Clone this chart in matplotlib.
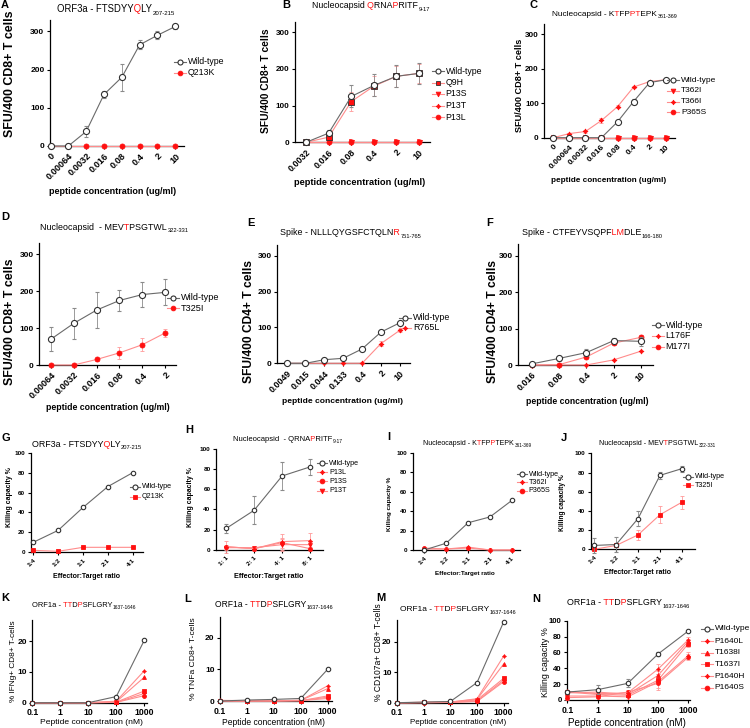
import matplotlib
matplotlib.use('Agg')
import matplotlib.pyplot as plt
from matplotlib.lines import Line2D
from matplotlib.ticker import NullLocator
from matplotlib.transforms import Bbox

plt.rcParams['font.family'] = ['Liberation Sans', 'DejaVu Sans']

# ---------------- data ----------------
# A
a_conc = ['0', '0.00064', '0.0032', '0.016', '0.08', '0.4', '2', '10']
a_wt = [0, 0, 38, 135, 180, 265, 290, 313]
a_wt_err = [0, 0, 15, 8, 35, 12, 10, 6]
a_q213k = [0, 0, 0, 0, 0, 0, 0, 0]
# B
b_conc = ['0.0032', '0.016', '0.08', '0.4', '2', '10']
b_wt = [0, 25, 125, 155, 180, 188]
b_wt_err = [0, 8, 30, 30, 30, 28]
b_q9h = [0, 14, 111, 153, 180, 188]
b_q9h_err = [0, 6, 25, 28, 28, 26]
b_p13s = [0, 0, 0, 0, 0, 0]
b_p13t = [0, 0, 0, 0, 0, 0]
b_p13l = [0, 0, 0, 0, 0, 0]
# C
c_conc = ['0', '0.00064', '0.0032', '0.016', '0.08', '0.4', '2', '10']
c_wt = [0, 0, 0, 0, 46, 105, 160, 168]
c_wt_err = [0, 0, 0, 0, 3, 8, 4, 3]
c_t362i = [0, 0, 0, 0, 0, 0, 0, 0]
c_t366i = [0, 12, 18, 50, 90, 147, 163, 168]
c_t366i_err = [0, 2, 4, 7, 4, 3, 3, 2]
c_p365s = [0, 0, 0, 0, 0, 0, 0, 0]
# D
d_conc = ['0.00064', '0.0032', '0.016', '0.08', '0.4', '2']
d_wt = [70, 113, 149, 175, 191, 197]
d_wt_err = [32, 42, 48, 28, 33, 35]
d_t325i = [0, 0, 15, 33, 55, 87]
d_t325i_err = [0, 0, 5, 17, 17, 10]
# E
e_conc = ['0.0049', '0.015', '0.044', '0.133', '0.4', '2', '10']
e_wt = [0, 0, 10, 14, 40, 87, 113]
e_wt_err = [0, 0, 1, 1, 2, 3, 3]
e_r765l = [0, 0, 0, 0, 0, 55, 92]
e_r765l_err = [0, 0, 0, 0, 0, 8, 5]
# F
f_conc = ['0.016', '0.08', '0.4', '2', '10']
f_wt = [3, 18, 34, 67, 65]
f_wt_err = [2, 8, 10, 8, 12]
f_l176f = [0, 0, 0, 14, 38]
f_m177i = [0, 1, 22, 60, 76]
f_m177i_err = [0, 1, 3, 4, 5]
# G
g_ratio = ['1:4', '1:2', '1:1', '2:1', '4:1']
g_wt = [10, 22, 45, 66, 80]
g_q213k = [2, 1, 5, 5, 5]
# H
h_ratio = ['1: 1', '2: 1', '4: 1', '8: 1']
h_wt = [21, 39, 73, 82]
h_wt_err = [4, 14, 14, 8]
h_p13l = [3, 1, 8, 9]
h_p13l_err = [6, 2, 8, 8]
h_p13s = [3, 1, 7, 1]
h_p13s_err = [2, 1, 5, 2]
h_p13t = [2, 2, 5, 5]
h_p13t_err = [2, 1, 6, 3]
# I
i_ratio = ['1:4', '1:2', '1:1', '2:1', '4:1']
i_wt = [0, 7, 28, 34, 51]
i_t362i = [1, 1, 3, 0, 0]
i_p365s = [2, 1, 2, 0, 0]
# J
j_ratio = ['1:4', '1:2', '1:1', '2:1', '4:1']
j_wt = [4, 5, 32, 77, 84]
j_wt_err = [8, 8, 8, 4, 3]
j_t325i = [0, 4, 15, 36, 49]
j_t325i_err = [1, 1, 5, 9, 7]
# K-N (peptide concentration nM)
nm_conc = [0.1, 1, 10, 100, 1000]
nm_labels = ['0.1', '1', '10', '100', '1000']
mut_names = ['P1640L', 'T1638I', 'T1637I', 'P1640H', 'P1640S']
k_wt = [0, 0, 0, 2.0, 20.3]
k_mut = [[0, 0, 0, 0.5, 10.4], [0, 0, 0, 0.3, 8.3], [0, 0, 0, 0.2, 3.8],
         [0, 0, 0, 0.1, 3.0], [0, 0, 0, 0.1, 2.3]]
l_wt = [0, 0.3, 0.5, 0.8, 10.0]
l_mut = [[0.2, 0.1, 0.1, 0.2, 4.8], [0.1, 0.1, 0.1, 0.2, 3.9], [0.1, 0, 0.1, 0.1, 1.6],
         [0, 0, 0, 0.1, 1.2], [0, 0, 0, 0.1, 0.8]]
m_wt = [0, 0.2, 0.4, 6.6, 26.5]
m_mut = [[0, 0.1, 0.2, 1.3, 15.3], [0, 0.1, 0.2, 1.1, 12.7], [0, 0.1, 0.1, 0.9, 8.0],
         [0, 0, 0.1, 0.5, 7.4], [0, 0, 0.1, 0.4, 6.9]]
n_wt = [10, 13, 21, 58, 87]
n_wt_err = [2, 6, 5, 2, 1]
n_mut = [[11, 8, 9, 39, 76], [9, 10, 7, 31, 74], [10, 7, 6, 25, 71],
         [5, 5, 4, 23, 56], [3, 4, 10, 21, 54]]
n_mut_err = [[2, 3, 3, 6, 3], [2, 3, 2, 5, 3], [2, 2, 2, 4, 4],
             [3, 2, 3, 10, 4], [3, 2, 3, 6, 4]]

# ---------------- styling ----------------
W, H = 750, 728
fig = plt.figure(figsize=(7.5, 7.28), dpi=100)
R = fig.canvas.get_renderer()
RED = '#ff1010'
RED_LINE = '#ff8c8c'
WT_LINE = '#6a6a6a'
WT_EDGE = '#303030'
STAR4 = (4, 1, 0)
BLK = 'black'


def fx(x):
    return x / W


def fy(y):
    return 1 - y / H


def make_ax(x0, x1, ytop, ybot):
    return fig.add_axes([fx(x0), fy(ybot), (x1 - x0) / W, (ybot - ytop) / H])


def fit_text(s, cx, cy, length, rot=0, weight='normal', base=8.0):
    t = fig.text(fx(cx), fy(cy), s, fontsize=base, rotation=rot, ha='center',
                 va='center', fontweight=weight)
    bb = t.get_window_extent(R)
    cur = bb.height if rot == 90 else bb.width
    t.set_fontsize(base * length / cur)
    return t


def _w(s, fs):
    t = fig.text(0, 0, s, fontsize=fs)
    w = t.get_window_extent(R).width
    t.remove()
    return w


def rich_title(parts, sub, x0, x1, ybase, base=8.0):
    """Draw the full string once per colour, each copy clipped to its own part."""
    main = ''.join(p for p, _ in parts)
    total = _w(main, base) + _w(sub, base * 0.65)
    fs = base * (x1 - x0) / total
    wm = _w(main, fs)
    bounds = [x0 - 6]
    prefix = ''
    for i in range(len(parts) - 1):
        prefix += parts[i][0]
        nxt = parts[i + 1][0]
        end_ink = x0 + _w(prefix, fs)
        start_next = x0 + _w(prefix + nxt, fs) - _w(nxt, fs)
        bounds.append((end_ink + start_next) / 2 + 0.3)
    bounds.append(x0 + wm + 6)
    for i, (p, c) in enumerate(parts):
        t = fig.text(fx(x0), fy(ybase), main, fontsize=fs, color=c, ha='left', va='baseline')
        t.set_clip_box(Bbox.from_extents(bounds[i], 0, bounds[i + 1], H))
    fig.text(fx(x0 + wm + 0.6), fy(ybase + fs * 0.3 * 100 / 72), sub, fontsize=fs * 0.65,
             ha='left', va='baseline')


def letter(s, x, y, fs=8):
    fig.text(fx(x), fy(y), s, fontsize=fs, fontweight='bold', ha='left', va='center')


def setup(ax, xlim, ylim, yticks, xticks, xlabels, fs, yfs=None, rotate=True, log=False):
    for sp in ['top', 'right']:
        ax.spines[sp].set_visible(False)
    for sp in ['left', 'bottom']:
        ax.spines[sp].set_linewidth(0.9)
    if log:
        ax.set_xscale('log')
    ax.set_xlim(*xlim)
    ax.set_ylim(*ylim)
    ax.set_yticks(yticks)
    ax.set_xticks(xticks)
    if log:
        ax.xaxis.set_minor_locator(NullLocator())
    if rotate:
        ax.set_xticklabels(xlabels, rotation=45, ha='right', rotation_mode='anchor')
    else:
        ax.set_xticklabels(xlabels)
    ax.tick_params(width=0.8, length=2.5, pad=1.5)
    ax.tick_params(axis='x', labelsize=fs)
    ax.tick_params(axis='y', labelsize=yfs if yfs else fs)
    for lb in ax.get_xticklabels() + ax.get_yticklabels():
        lb.set_fontweight('bold')


def wt(ax, x, y, err=None, ms=4.4):
    ax.errorbar(x, y, yerr=err, color=WT_LINE, ecolor='#8a8a8a', elinewidth=0.6,
                capsize=1.6, capthick=0.6, marker='o', ms=ms, mfc='white', mec=WT_EDGE,
                mew=0.8, lw=0.8, clip_on=False, zorder=5)


def mut(ax, x, y, marker, err=None, ms=3.6, mec=None, z=4):
    ax.errorbar(x, y, yerr=err, color=RED_LINE, ecolor='#ff9a9a', elinewidth=0.6,
                capsize=1.6, capthick=0.6, marker=marker, ms=ms, mfc=RED,
                mec=mec if mec else RED, mew=0.6, lw=0.8, clip_on=False, zorder=z)


def legend(entries, xm, ys, fs, half=6, gap=2):
    for (lab, kind, mk), y in zip(entries, ys):
        col = WT_LINE if kind == 'wt' else RED_LINE
        fig.add_artist(Line2D([fx(xm - half), fx(xm + half)], [fy(y), fy(y)], color=col,
                              lw=0.8, transform=fig.transFigure))
        if kind == 'wt':
            fig.add_artist(Line2D([fx(xm)], [fy(y)], marker='o', ms=3.6, mfc='white',
                                  mec=WT_EDGE, mew=0.8, transform=fig.transFigure))
        else:
            mec = WT_EDGE if kind == 'sq' else RED
            fig.add_artist(Line2D([fx(xm)], [fy(y)], marker=mk, ms=3.4, mfc=RED,
                                  mec=mec, mew=0.6, transform=fig.transFigure))
        fig.text(fx(xm + half + gap), fy(y), lab, fontsize=fs, ha='left', va='center')


# ---------------- A ----------------
ax = make_ax(50, 184, 20, 146)
xa = list(range(len(a_conc)))
setup(ax, (-0.03, 7.49), (0, 330), [0, 100, 200, 300], xa, a_conc, 6.6, 6.0)
mut(ax, xa, a_q213k, 'o')
wt(ax, xa, a_wt, a_wt_err)
letter('A', 1, 5)
rich_title([('ORF3a - FTSDYY', BLK), ('Q', RED), ('LY', BLK)], '207-215', 57, 175, 12)
fit_text('SFU/400 CD8+ T cells', 10, 73.5, 127, rot=90, weight='bold')
fit_text('peptide concentration (ug/ml)', 113, 191.7, 127, weight='bold')
legend([('Wild-type', 'wt', 'o'), ('Q213K', 'm', 'o')], 180, [61.7, 72.7], 6.3)

# ---------------- B ----------------
ax = make_ax(295, 430, 21.7, 142.3)
xb = list(range(len(b_conc)))
setup(ax, (-0.49, 5.49), (0, 329), [0, 100, 200, 300], xb, b_conc, 6.4, 5.8)
mut(ax, xb, b_p13s, 'v')
mut(ax, xb, b_p13t, STAR4)
mut(ax, xb, b_p13l, 'o')
mut(ax, xb, b_q9h, 's', b_q9h_err, ms=3.8, mec=WT_EDGE, z=5)
wt(ax, xb, b_wt, b_wt_err)
letter('B', 282, 5)
rich_title([('Nucleocapsid ', BLK), ('Q', RED), ('RNA', BLK), ('P', RED), ('RITF', BLK)],
           '9-17', 312, 430, 8)
fit_text('SFU/400 CD8+ T cells', 265.7, 80.8, 105, rot=90, weight='bold')
fit_text('peptide concentration (ug/ml)', 360, 182.7, 130, weight='bold')
legend([('Wild-type', 'wt', 'o'), ('Q9H', 'sq', 's'), ('P13S', 'm', 'v'),
        ('P13T', 'm', STAR4), ('P13L', 'm', 'o')], 437.5, [71, 82.5, 94, 105.5, 117], 6.3)

# ---------------- C ----------------
ax = make_ax(544.3, 675, 24, 137.7)
xc = list(range(len(c_conc)))
setup(ax, (-0.56, 7.58), (0, 330), [0, 100, 200, 300], xc, c_conc, 6.0, 5.8)
mut(ax, xc, c_t362i, 'v')
mut(ax, xc, c_p365s, 'o')
mut(ax, xc, c_t366i, STAR4, c_t366i_err)
wt(ax, xc, c_wt, c_wt_err)
letter('C', 530, 5)
rich_title([('Nucleocapsid - K', BLK), ('T', RED), ('FP', BLK), ('PT', RED), ('EPK', BLK)],
           '361-369', 552, 678, 15.5)
fit_text('SFU/400 CD8+ T cells', 520, 85, 93, rot=90, weight='bold')
fit_text('peptide concentration (ug/ml)', 609, 180, 115, weight='bold')
legend([('Wild-type', 'wt', 'o'), ('T362I', 'm', 'v'), ('T366I', 'm', STAR4),
        ('P365S', 'm', 'o')], 673, [80, 90.7, 101.7, 112.3], 6.0)

# ---------------- D ----------------
ax = make_ax(39.3, 175.7, 243.3, 365)
xd = list(range(len(d_conc)))
setup(ax, (-0.51, 5.46), (0, 330), [0, 100, 200, 300], xd, d_conc, 6.6, 6.0)
mut(ax, xd, d_t325i, 'o', d_t325i_err)
wt(ax, xd, d_wt, d_wt_err)
letter('D', 1, 216.7)
rich_title([('Nucleocapsid  - MEV', BLK), ('T', RED), ('PSGTWL', BLK)], '322-331',
           40, 188, 229.7)
fit_text('SFU/400 CD8+ T cells', 10, 321.7, 127, rot=90, weight='bold')
fit_text('peptide concentration (ug/ml)', 108, 407, 123, weight='bold')
legend([('Wild-type', 'wt', 'o'), ('T325I', 'm', 'o')], 173, [297.7, 308.3], 6.6)

# ---------------- E ----------------
ax = make_ax(277.3, 410, 245, 363.3)
xe = list(range(len(e_conc)))
setup(ax, (-0.49, 6.54), (0, 330), [0, 100, 200, 300], xe, e_conc, 6.4, 6.0)
mut(ax, xe, e_r765l, STAR4, e_r765l_err)
wt(ax, xe, e_wt, e_wt_err)
letter('E', 247, 223)
rich_title([('Spike - NLLLQYGSFCTQLN', BLK), ('R', RED)], '751-765', 280, 420, 235)
fit_text('SFU/400 CD4+ T cells', 249, 321.7, 123, rot=90, weight='bold')
fit_text('peptide concentration (ug/ml)', 343, 401.7, 120, weight='bold')
legend([('Wild-type', 'wt', 'o'), ('R765L', 'm', STAR4)], 405, [317.7, 328], 6.4)

# ---------------- F ----------------
ax = make_ax(518.3, 653, 244, 365)
xf = list(range(len(f_conc)))
setup(ax, (-0.49, 4.44), (0, 332), [0, 100, 200, 300], xf, f_conc, 6.4, 6.0)
mut(ax, xf, f_l176f, STAR4)
mut(ax, xf, f_m177i, 'o', f_m177i_err)
wt(ax, xf, f_wt, f_wt_err)
letter('F', 486, 223)
rich_title([('Spike - CTFEYVSQPF', BLK), ('LM', RED), ('DLE', BLK)], '166-180',
           522, 663, 235)
fit_text('SFU/400 CD4+ T cells', 493, 321.7, 123, rot=90, weight='bold')
fit_text('peptide concentration (ug/ml)', 587.5, 401.7, 121.7, weight='bold')
legend([('Wild-type', 'wt', 'o'), ('L176F', 'm', STAR4), ('M177I', 'm', 'o')],
       657.7, [325, 336, 346.7], 6.4)

# ---------------- G ----------------
ax = make_ax(30.7, 143, 452.7, 552.3)
xg = list(range(len(g_ratio)))
setup(ax, (-0.1, 4.41), (0, 100), [0, 20, 40, 60, 80, 100], xg, g_ratio, 4.6)
mut(ax, xg, g_q213k, 's', ms=2.8)
wt(ax, xg, g_wt, ms=3.2)
letter('G', 1, 438)
rich_title([('ORF3a - FTSDYY', BLK), ('Q', RED), ('LY', BLK)], '207-215', 31.7, 141.7, 446.7)
fit_text('Killing capacity %', 9.3, 496.7, 60, rot=90, weight='bold')
fit_text('Effector:Target ratio', 86.7, 576, 66.7, weight='bold')
legend([('Wild-type', 'wt', 'o'), ('Q213K', 'm', 's')], 135, [486.7, 496.7], 5.2, half=5)

# ---------------- H ----------------
ax = make_ax(216, 323, 448.7, 549.7)
xh = list(range(len(h_ratio)))
setup(ax, (-0.36, 3.46), (0, 100), [0, 20, 40, 60, 80, 100], xh, h_ratio, 4.6)
mut(ax, xh, h_p13t, 'v', h_p13t_err, ms=2.8)
mut(ax, xh, h_p13s, 'o', h_p13s_err, ms=2.8)
mut(ax, xh, h_p13l, STAR4, h_p13l_err, ms=3.0)
wt(ax, xh, h_wt, h_wt_err, ms=3.2)
letter('H', 185, 430)
rich_title([('Nucleocapsid  - QRNA', BLK), ('P', RED), ('RITF', BLK)], '9-17',
           232.7, 341.7, 441)
fit_text('Killing capacity %', 191, 497, 60, rot=90, weight='bold')
fit_text('Effector:Target ratio', 268.3, 576, 70, weight='bold')
legend([('Wild-type', 'wt', 'o'), ('P13L', 'm', STAR4), ('P13S', 'm', 'o'),
        ('P13T', 'm', 'v')], 322.3, [463.3, 472.3, 481.3, 491], 5.2, half=5)

# ---------------- I ----------------
ax = make_ax(412.5, 520, 452.7, 550)
xi = list(range(len(i_ratio)))
setup(ax, (-0.54, 4.37), (0, 100), [0, 20, 40, 60, 80, 100], xi, i_ratio, 4.6)
mut(ax, xi, i_p365s, 'o', ms=2.8)
mut(ax, xi, i_t362i, STAR4, ms=3.0)
wt(ax, xi, i_wt, ms=3.2)
letter('I', 387, 436.7)
rich_title([('Nucleocapsid - K', BLK), ('T', RED), ('FP', BLK), ('P', RED), ('TEPK', BLK)],
           '361-369', 423.3, 531.7, 445)
fit_text('Killing capacity %', 389.3, 504, 55, rot=90, weight='bold')
fit_text('Effector:Target ratio', 465, 573, 60, weight='bold')
legend([('Wild-type', 'wt', 'o'), ('T362I', 'm', STAR4), ('P365S', 'm', 'o')],
       521.7, [474, 482.3, 491], 5.2, half=5)

# ---------------- J ----------------
ax = make_ax(590.7, 695, 453.3, 549.3)
xj = list(range(len(j_ratio)))
setup(ax, (-0.16, 4.6), (0, 100), [0, 20, 40, 60, 80, 100], xj, j_ratio, 4.6)
mut(ax, xj, j_t325i, 's', j_t325i_err, ms=2.8)
wt(ax, xj, j_wt, j_wt_err, ms=3.2)
letter('J', 561, 438)
rich_title([('Nucleocapsid - MEV', BLK), ('T', RED), ('PSGTWL', BLK)], '322-331',
           599, 715, 445)
fit_text('Killing capacity %', 562.7, 503, 57, rot=90, weight='bold')
fit_text('Effector:Target ratio', 638, 573, 66.7, weight='bold')
legend([('Wild-type', 'wt', 'o'), ('T325I', 'm', 's')], 688.3, [476.7, 485.3], 5.2, half=5)

# ---------------- K-N ----------------
mut_markers = [STAR4, '^', 's', STAR4, 'o']
orf1a_parts = [('ORF1a - ', BLK), ('TT', RED), ('D', BLK), ('P', RED), ('SFLGRY', BLK)]


def orf_panel(x0, x1, ytop, ybot, xmax, ymax, yticks, wtv, mutv, werr=None, merr=None,
              yfs=6.0):
    ax = make_ax(x0, x1, ytop, ybot)
    setup(ax, (0.1, xmax), (0, ymax), yticks, nm_conc, nm_labels, 6.3, yfs,
          rotate=False, log=True)
    for i in range(len(mutv) - 1, -1, -1):
        mut(ax, nm_conc, mutv[i], mut_markers[i], merr[i] if merr else None, ms=2.8)
    wt(ax, nm_conc, wtv, werr, ms=3.2)
    return ax


orf_panel(32.3, 146.7, 620, 702.7, 1220, 26.9, [0, 10, 20], k_wt, k_mut)
letter('K', 1, 598)
rich_title(orf1a_parts, '1637-1646', 31.7, 135, 606.7)
fit_text('% IFNg+ CD8+ T-cells', 13.3, 660.8, 81.7, rot=90)
fit_text('Peptide concentration (nM)', 91.3, 722.7, 102.7)

orf_panel(220, 332, 616.7, 701, 1450, 26.6, [0, 10, 20], l_wt, l_mut)
letter('L', 184, 599)
rich_title(orf1a_parts, '1637-1646', 215, 333.3, 606.7)
fit_text('% TNFa CD8+ T-cells', 193.3, 659, 82, rot=90)
fit_text('Peptide concentration (nM)', 273.3, 722.7, 103.3)

orf_panel(397, 508, 620, 702.7, 1450, 27.1, [0, 10, 20], m_wt, m_mut)
letter('M', 376, 598)
rich_title(orf1a_parts, '1637-1646', 400, 516.7, 611)
fit_text('% CD107a+ CD8+ T-cells', 378.3, 652, 98, rot=90)
fit_text('Peptide concentration (nM)', 458.3, 722.7, 96.7)

orf_panel(567.3, 690, 620.7, 700, 1140, 100, [0, 20, 40, 60, 80, 100], n_wt, n_mut,
          n_wt_err, n_mut_err, yfs=5.6)
letter('N', 532, 599)
rich_title(orf1a_parts, '1637-1646', 566.7, 690, 605)
fit_text('Killing capacity %', 545.5, 661.7, 70, rot=90)
fit_text('Peptide concentration (nM)', 626.7, 722.7, 120)
legend([('Wild-type', 'wt', 'o')] + [(n, 'm', m) for n, m in zip(mut_names, mut_markers)],
       706.7, [629, 641.2, 652.8, 664.4, 676, 687.6], 6.0)

fig.savefig('out.png', dpi=100)
